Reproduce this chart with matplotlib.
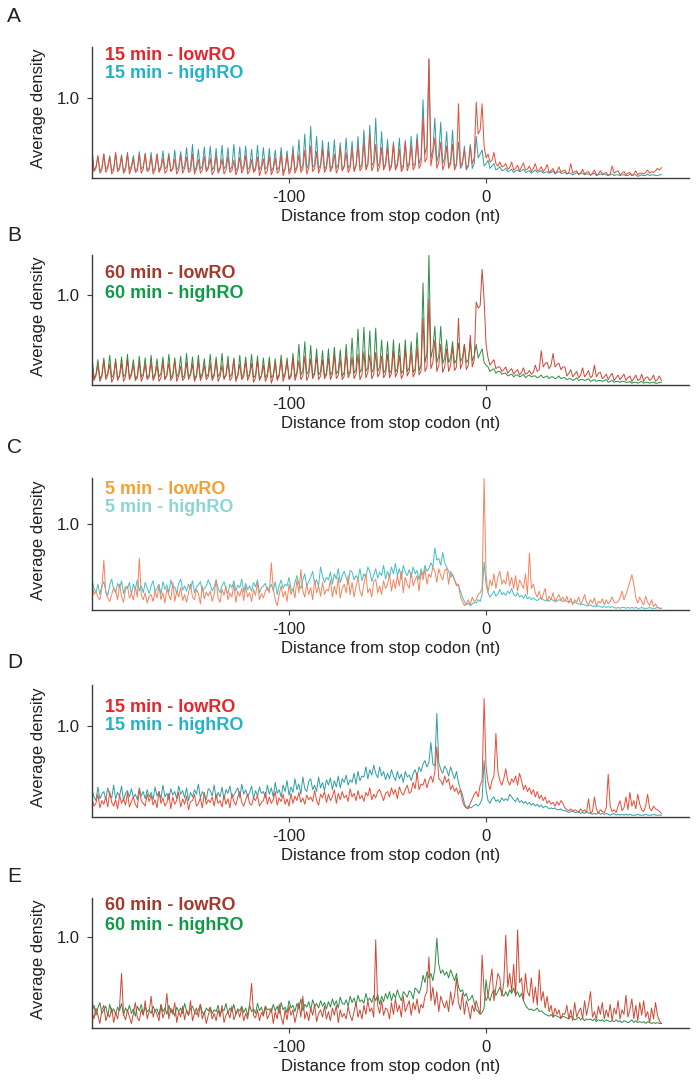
import numpy as np
import matplotlib
matplotlib.use("Agg")
import matplotlib.pyplot as plt

plt.rcParams['font.family'] = ['Liberation Sans', 'DejaVu Sans']
plt.rcParams['axes.unicode_minus'] = False

# ---------------- data ----------------
X_START = -200          # first nt position (distance from stop codon)
x_ticks = [-100, 0]
x_tick_labels = ["-100", "0"]
y_ticks = [1.0]
y_tick_labels = ["1.0"]
x_label = "Distance from stop codon (nt)"
y_label = "Average density"

# average density, in hundredths, one value per nt from -200 upward
a_low = [
    38,8,12, 28,6,10, 30,7,12, 26,5,9, 32,8,11, 27,6,10, 30,5,12, 24,7,9, 29,6,11, 31,8,10,
    27,5,10, 30,7,12, 25,6,9, 28,8,11, 24,5,10, 29,6,12, 26,7,9, 30,5,11, 23,6,10, 27,8,12,
    25,4,9, 28,6,11, 24,5,10, 27,7,9, 22,4,10, 26,6,12, 28,5,9, 23,7,10, 26,3,11, 24,5,9,
    27,4,10, 25,6,9, 30,3,11, 28,5,10, 32,6,12, 29,7,11, 35,5,13, 40,8,12, 33,6,14, 36,7,12,
    34,8,13, 30,6,12, 38,9,14, 32,7,12, 36,8,15, 40,9,13, 45,10,16, 54,9,15, 42,8,14, 38,10,16,
    38,9,14, 42,10,15, 36,8,13, 45,9,16, 40,10,15, 48,12,18, 77,20,25, 149,15,30, 50,12,20, 45,10,18,
    40,12,18, 42,10,16, 93,15,20, 35,12,16, 40,18,25, 95,55,60, 93,40,25, 30,20,22, 32,18,15, 20,14,15,
    18,11,13, 20,10,12, 16,9,14, 19,10,11, 15,8,12, 18,9,10, 14,8,11, 17,7,9, 12,6,8, 14,7,9,
    10,5,7, 18,6,8, 9,4,6, 11,5,7, 8,3,6, 10,4,5, 9,5,6, 7,3,5, 15,6,8, 9,4,6,
    8,4,6, 7,3,5, 9,4,6, 6,5,7, 10,6,8, 7,9,12, 10,13,
]
a_high = [
    30,10,14, 27,9,13, 30,11,15, 28,9,12, 31,10,14, 29,8,13, 32,10,15, 28,9,12, 33,11,14, 30,10,13,
    32,9,13, 30,10,14, 34,11,15, 31,9,12, 35,10,14, 33,11,15, 38,10,13, 42,9,14, 36,11,15, 39,10,14,
    40,10,14, 37,9,13, 41,11,15, 38,10,14, 42,9,13, 39,11,15, 40,10,14, 36,9,13, 41,10,15, 38,11,14,
    37,9,13, 35,10,14, 38,8,12, 34,9,13, 40,10,14, 48,11,16, 55,12,18, 65,13,17, 52,12,16, 47,11,15,
    45,11,16, 48,12,17, 44,10,15, 50,12,16, 46,11,15, 52,13,17, 60,14,18, 66,15,20, 75,14,19, 58,13,18,
    48,12,17, 45,13,18, 50,12,16, 47,14,19, 52,15,18, 55,18,25, 98,30,40, 149,25,35, 75,20,30, 70,18,25,
    58,15,20, 60,14,18, 45,12,16, 40,10,15, 42,12,18, 52,25,30, 35,15,18, 22,12,15, 18,10,12, 14,9,10,
    12,8,9, 11,7,9, 10,8,9, 11,7,8, 9,6,8, 10,7,8, 9,6,7, 8,6,7, 9,5,7, 8,6,6,
    7,5,6, 6,4,5, 7,5,6, 6,4,5, 5,4,5, 6,3,4, 5,4,5, 4,3,4, 5,3,4, 4,3,4,
    4,3,3, 5,3,4, 4,2,3, 4,3,3, 5,3,4, 4,3,3, 4,4,
]
b_low = [
    25,5,10, 22,4,9, 27,6,11, 23,3,8, 26,5,10, 24,4,9, 28,6,11, 22,5,8, 25,4,10, 23,6,9,
    26,5,10, 22,4,8, 25,6,11, 24,5,9, 27,4,10, 21,5,8, 25,6,11, 23,4,9, 26,5,10, 22,6,9,
    24,5,10, 27,4,9, 22,6,11, 25,5,8, 28,4,10, 23,6,9, 26,5,11, 24,3,8, 27,5,10, 22,4,9,
    25,2,9, 24,5,10, 28,4,11, 26,6,9, 30,5,12, 27,6,10, 32,5,11, 29,7,12, 31,6,10, 28,7,11,
    30,6,12, 33,7,11, 29,6,10, 35,8,13, 31,7,12, 34,6,11, 37,8,14, 33,7,12, 36,9,13, 32,8,12,
    34,8,13, 38,9,14, 33,7,12, 40,10,15, 36,9,14, 42,11,16, 74,15,20, 95,18,25, 50,15,22, 45,14,20,
    40,15,22, 42,16,20, 74,18,24, 45,17,22, 55,20,28, 92,85,88, 128,95,45, 30,22,25, 28,18,20, 20,15,17,
    20,13,16, 18,12,15, 17,11,14, 19,12,13, 16,12,14, 22,15,17, 38,20,24, 25,18,22, 35,20,23, 24,17,20,
    20,10,13, 17,9,12, 15,8,11, 19,9,12, 16,8,10, 22,9,13, 14,7,9, 12,6,10, 13,5,8, 11,6,9,
    12,5,8, 10,4,7, 11,5,6, 12,4,8, 9,5,7, 11,4,6, 10,5,
]
b_high = [
    32,8,12, 28,7,11, 30,9,13, 33,8,12, 29,7,11, 31,9,12, 34,8,13, 28,7,10, 32,9,12, 30,8,11,
    33,8,12, 29,9,13, 31,7,11, 34,8,12, 30,9,13, 32,8,11, 35,9,12, 31,7,11, 33,8,13, 29,9,12,
    34,8,12, 31,9,13, 35,8,11, 32,9,12, 30,7,11, 33,8,13, 31,9,12, 34,8,11, 32,7,10, 30,8,12,
    31,8,11, 29,7,12, 33,9,13, 30,8,11, 35,9,14, 45,11,16, 48,12,15, 44,10,14, 40,11,15, 38,10,13,
    40,11,15, 42,12,16, 39,10,14, 45,12,15, 52,13,17, 62,14,18, 64,15,19, 60,14,18, 63,15,20, 50,13,17,
    48,13,17, 50,14,18, 46,13,16, 50,15,19, 48,14,18, 58,16,22, 113,25,35, 145,30,40, 65,25,32, 65,24,30,
    50,25,30, 48,24,28, 46,26,30, 45,25,28, 47,27,32, 45,30,35, 40,25,22, 20,15,17, 18,13,15, 15,12,13,
    13,10,11, 12,9,11, 11,9,10, 12,8,10, 11,9,10, 10,8,9, 11,8,9, 10,7,9, 9,7,8, 10,7,8,
    8,6,7, 7,5,6, 8,5,6, 6,5,6, 7,4,5, 6,4,5, 5,4,5, 6,3,4, 5,3,4, 4,3,4,
    4,3,3, 4,2,3, 3,2,3, 4,2,3, 3,2,3, 3,2,2, 3,3,
]
c_low = [
    30,18,22, 15,12,25, 58,20,14, 10,18,26, 22,12,30, 16,9,24, 28,14,19, 12,27,15, 60,18,12, 20,8,16,
    18,10,22, 14,28,12, 20,8,25, 17,12,32, 10,22,15, 26,11,18, 9,20,30, 15,12,24, 19,7,28, 13,21,16,
    22,10,18, 35,14,9, 24,17,28, 12,20,15, 30,9,22, 16,25,11, 28,15,20, 10,24,17, 32,12,19, 14,22,27,
    20,55,25, 12,5,18, 28,15,22, 10,30,18, 25,14,35, 20,47,22, 15,30,18, 26,12,35, 20,28,16, 32,18,24,
    22,35,15, 28,18,38, 14,25,30, 20,40,18, 32,15,27, 38,22,16, 30,42,20, 25,15,33, 36,20,28, 18,34,25,
    30,42,22, 35,25,40, 28,45,20, 38,30,25, 44,28,35, 40,22,45, 35,48,30, 42,38,50, 45,32,48, 40,35,46,
    48,30,45, 40,35,28, 30,15,10, 5,8,12, 6,15,10, 12,18,20, 25,153,40, 20,35,28, 42,25,38, 45,30,35,
    30,45,28, 38,25,40, 22,35,30, 25,42,18, 66,25,30, 20,15,22, 12,18,25, 10,16,12, 20,9,14, 18,11,15,
    10,16,8, 14,6,12, 9,15,7, 11,18,9, 6,12,8, 14,5,10, 8,13,6, 12,7,10, 15,9,8, 10,14,22,
    12,18,25, 33,41,30, 14,8,15, 10,6,16, 9,5,12, 4,7,3, 2,2,
]
c_high = [
    35,25,20, 30,18,28, 33,22,17, 29,36,24, 20,31,26, 34,19,27, 25,32,18, 30,24,35, 22,28,20, 32,26,19,
    28,34,21, 25,30,18, 33,24,29, 20,35,26, 27,19,31, 36,23,28, 22,30,25, 34,20,27, 29,33,22, 25,28,35,
    30,22,27, 35,25,20, 28,33,24, 19,30,26, 34,22,29, 26,36,21, 31,24,28, 22,32,27, 35,20,26, 28,31,23,
    25,30,22, 33,18,28, 35,25,30, 28,38,24, 22,32,40, 30,25,35, 42,28,33, 38,45,30, 35,28,50, 40,32,38,
    35,44,30, 42,36,48, 32,40,45, 38,30,46, 44,35,40, 36,48,34, 42,38,50, 45,33,41, 48,37,44, 40,52,36,
    45,38,50, 42,54,40, 48,36,52, 44,40,47, 38,50,42, 46,35,48, 40,52,45, 48,55,50, 72,58,60, 52,67,55,
    50,45,38, 42,35,30, 28,22,15, 10,6,8, 5,7,9, 8,12,10, 18,56,30, 20,15,18, 22,16,19, 24,18,20,
    17,22,19, 25,18,16, 20,15,17, 14,18,13, 15,12,14, 12,11,13, 14,12,11, 12,10,13, 11,12,10, 12,11,10,
    11,10,9, 10,8,9, 8,7,6, 7,6,5, 5,6,4, 5,4,5, 4,3,4, 3,4,3, 4,3,2, 3,2,3,
    3,2,3, 2,3,2, 3,2,2, 3,2,2, 2,3,2, 2,2,3, 2,2,
]
d_low = [
    20,12,15, 25,10,18, 14,22,11, 28,16,12, 19,9,24, 15,20,13, 27,11,17, 22,14,10, 30,18,15, 12,25,17,
    24,13,19, 10,28,15, 21,12,16, 26,9,22, 14,18,27, 11,20,14, 23,8,17, 18,25,12, 15,21,10, 27,14,19,
    16,22,12, 25,15,18, 11,24,14, 20,10,26, 17,13,22, 28,16,12, 19,25,15, 13,21,18, 24,12,16, 18,27,14,
    22,15,19, 28,13,21, 17,25,14, 20,12,26, 15,23,18, 27,16,21, 14,24,19, 22,17,29, 18,13,25, 21,28,16,
    25,18,22, 30,15,26, 19,28,21, 24,17,31, 22,26,18, 29,20,24, 17,27,23, 32,19,25, 21,28,30, 24,18,26,
    28,22,32, 25,30,20, 33,27,24, 30,35,26, 28,38,31, 48,30,36, 35,42,32, 40,45,38, 50,77,42, 40,35,45,
    38,42,30, 35,28,32, 25,30,18, 12,10,9, 15,20,25, 28,22,35, 40,130,55, 38,30,40, 45,92,50, 40,35,42,
    53,40,35, 42,38,45, 35,48,40, 30,35,28, 32,25,30, 22,28,20, 24,18,22, 15,18,14, 16,12,17, 13,18,15,
    10,8,7, 9,6,8, 7,5,9, 6,8,5, 20,4,6, 22,9,4, 8,6,5, 10,47,12, 6,8,5, 12,18,7,
    10,22,8, 27,12,18, 9,25,14, 8,6,12, 25,10,7, 12,9,8, 6,4,
]
d_high = [
    30,22,18, 33,20,25, 28,19,32, 24,21,35, 20,27,23, 34,18,26, 29,22,31, 21,25,19, 32,23,28, 20,30,22,
    27,19,33, 23,28,20, 35,22,26, 19,31,24, 28,20,34, 25,29,21, 32,18,27, 22,30,25, 36,21,28, 24,19,31,
    29,23,35, 20,27,22, 33,19,30, 26,34,21, 24,28,32, 21,36,25, 30,22,27, 34,20,29, 23,33,26, 28,21,35,
    25,32,22, 38,26,30, 22,35,28, 40,24,33, 27,42,30, 36,25,44, 31,28,39, 42,30,35, 28,44,32, 38,29,41,
    35,43,30, 40,33,45, 32,42,38, 46,35,41, 38,48,36, 50,40,45, 44,55,42, 52,46,57, 48,43,55, 45,50,41,
    48,42,52, 45,40,50, 42,47,38, 50,44,46, 40,48,52, 45,55,50, 58,62,55, 60,82,58, 56,114,60, 52,48,56,
    52,45,55, 48,42,50, 38,30,25, 15,10,12, 10,11,13, 14,12,15, 20,62,30, 18,15,20, 22,17,19, 16,21,18,
    20,18,25, 22,19,17, 21,16,18, 15,17,14, 16,13,15, 12,14,11, 13,10,12, 11,9,10, 9,10,8, 8,9,7,
    7,6,5, 6,7,5, 5,6,4, 5,4,6, 4,5,3, 4,3,5, 3,4,3, 4,3,2, 3,4,2, 3,2,3,
    2,3,2, 3,2,2, 2,3,2, 2,2,3, 2,2,2, 3,2,2, 2,2,
]
e_low = [
    18,10,22, 14,5,20, 25,8,15, 12,22,6, 17,10,24, 60,15,9, 20,12,5, 16,28,11, 8,20,14, 30,10,18,
    35,12,20, 15,8,25, 11,18,38, 10,22,15, 28,6,18, 12,24,9, 20,14,30, 8,16,22, 12,26,10, 18,5,14,
    22,10,16, 8,20,12, 25,6,14, 18,11,24, 9,15,20, 12,22,8, 16,10,26, 49,14,11, 20,8,17, 13,24,10,
    15,22,5, 18,10,26, 12,4,20, 9,24,14, 20,6,16, 28,12,35, 10,18,8, 22,14,26, 7,16,20, 12,24,10,
    18,8,22, 14,25,6, 20,12,16, 10,24,14, 8,18,28, 12,20,10, 25,15,30, 18,22,12, 97,25,16, 30,14,22,
    20,10,28, 15,32,18, 25,12,35, 18,24,30, 14,28,20, 32,16,26, 22,35,40, 78,30,45, 25,40,18, 35,28,22,
    30,18,40, 25,35,55, 28,20,38, 15,30,22, 10,25,18, 30,22,15, 80,40,30, 35,50,65, 30,45,60, 55,35,50,
    102,45,60, 40,70,35, 108,50,55, 30,60,40, 35,55,28, 45,25,64, 30,40,22, 35,18,25, 12,22,15, 20,10,16,
    15,25,10, 20,8,28, 12,18,22, 10,30,14, 25,40,12, 18,9,24, 15,28,10, 20,12,26, 8,22,15, 30,10,20,
    15,36,12, 20,32,10, 25,8,28, 14,30,12, 18,6,22, 10,28,14, 8,5,
]
e_high = [
    18,25,14, 22,28,16, 20,24,13, 26,17,21, 15,23,19, 27,14,22, 18,25,16, 21,13,24, 19,26,15, 23,18,20,
    16,24,19, 21,14,26, 18,22,15, 25,17,20, 13,23,18, 22,16,27, 19,14,21, 24,18,15, 20,26,17, 15,22,19,
    23,16,20, 18,25,14, 21,19,27, 16,22,18, 26,15,21, 19,24,17, 22,14,25, 18,21,16, 27,19,23, 15,24,20,
    21,17,26, 19,24,16, 28,20,23, 17,30,22, 25,18,27, 21,32,19, 26,23,29, 20,31,24, 27,22,30, 24,28,21,
    29,23,32, 25,30,22, 34,27,26, 31,24,35, 28,33,25, 36,29,31, 27,38,30, 33,28,36, 30,37,26, 35,29,38,
    32,40,30, 38,33,42, 35,30,40, 37,34,41, 39,32,44, 42,38,45, 58,50,62, 55,60,52, 65,99,70, 60,64,58,
    62,55,64, 58,52,60, 45,40,42, 35,38,30, 32,36,28, 20,18,15, 17,22,53, 35,30,38, 42,36,40, 45,38,35,
    40,35,42, 38,44,36, 40,34,38, 30,25,22, 20,21,19, 20,22,18, 19,17,15, 14,13,15, 12,14,13, 12,11,13,
    12,11,10, 13,11,9, 10,12,9, 11,8,10, 9,10,8, 10,7,9, 8,9,7, 9,8,7, 8,7,9, 7,8,6,
    8,7,6, 7,9,6, 8,6,7, 6,7,5, 7,6,5, 6,5,6, 5,5,
]

panel_letters = ["A", "B", "C", "D", "E"]
low_names = ["15 min - lowRO", "60 min - lowRO", "5 min - lowRO", "15 min - lowRO", "60 min - lowRO"]
high_names = ["15 min - highRO", "60 min - highRO", "5 min - highRO", "15 min - highRO", "60 min - highRO"]
low_series = [a_low, b_low, c_low, d_low, e_low]
high_series = [a_high, b_high, c_high, d_high, e_high]

# ---------------- styles / layout ----------------
W, H = 696, 1085
low_line = ["#ef4a34", "#cf4631", "#f7825c", "#ef4a34", "#cf4631"]
high_line = ["#2e9ea3", "#2b8c45", "#3fc0c6", "#2e9ea3", "#2b8c45"]
low_text = ["#e8242a", "#a4382a", "#f7a032", "#e8242a", "#a4382a"]
high_text = ["#22b3c8", "#0e9a48", "#8cd5d5", "#22b3c8", "#0e9a48"]
ax_top = [47, 255, 478, 685, 898]
ax_bot = [178, 385, 610, 817, 1028]
y_top = [1.64, 1.44, 1.535, 1.45, 1.43]
letter_y = [17, 235, 448, 662, 877]
leg1_y = [55.5, 273, 489, 707, 906]
leg2_y = [73.5, 294, 507, 725, 925]
AX_L, AX_R = 92, 689
X_MIN, X_MAX = -200, 103

axis_col = "#3c3c3c"
text_col = "#231f20"

fig = plt.figure(figsize=(W / 100, H / 100), dpi=100)

for i in range(5):
    top, bot = ax_top[i], ax_bot[i]
    ax = fig.add_axes([AX_L / W, 1 - bot / H, (AX_R - AX_L) / W, (bot - top) / H])
    hi = np.array(high_series[i]) / 100.0
    lo = np.array(low_series[i]) / 100.0
    ax.plot(np.arange(X_START, X_START + len(hi)), hi, color=high_line[i], lw=0.7)
    ax.plot(np.arange(X_START, X_START + len(lo)), lo, color=low_line[i], lw=0.7)
    ax.set_xlim(X_MIN, X_MAX)
    ax.set_ylim(0, y_top[i])
    for s in ("top", "right"):
        ax.spines[s].set_visible(False)
    for s in ("left", "bottom"):
        ax.spines[s].set_color(axis_col)
        ax.spines[s].set_linewidth(1.0)
    ax.set_xticks(x_ticks)
    ax.set_xticklabels(x_tick_labels)
    ax.set_yticks(y_ticks)
    ax.set_yticklabels(y_tick_labels)
    ax.tick_params(direction="out", length=3.5, width=0.8, color=axis_col,
                   labelsize=12, labelcolor=text_col, pad=5)
    ax.set_xlabel(x_label, fontsize=12, color=text_col, labelpad=3)
    ax.patch.set_alpha(0)

    fig.text(39 / W, 1 - ((top + bot) / 2 - 4) / H, y_label, rotation=90,
             ha="center", va="center", fontsize=12, color=text_col)
    fig.text(7 / W, 1 - letter_y[i] / H, panel_letters[i], ha="left", va="center",
             fontsize=15, color=text_col)
    fig.text(105 / W, 1 - leg1_y[i] / H, low_names[i], ha="left", va="center",
             fontsize=13, fontweight="bold", color=low_text[i])
    fig.text(105 / W, 1 - leg2_y[i] / H, high_names[i], ha="left", va="center",
             fontsize=13, fontweight="bold", color=high_text[i])

fig.savefig("out.png", dpi=100)
